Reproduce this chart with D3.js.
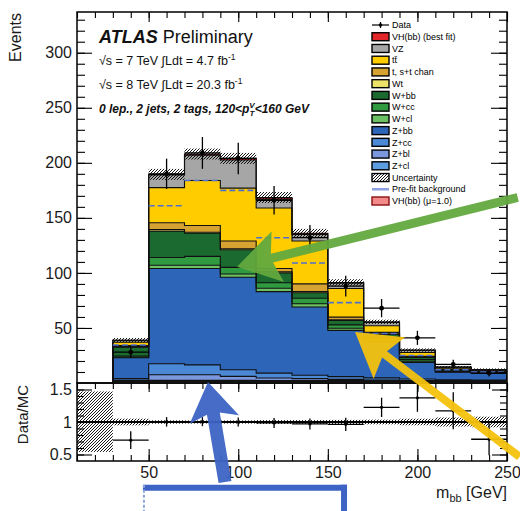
<!DOCTYPE html>
<html>
<head>
<meta charset="utf-8">
<script src="https://cdn.jsdelivr.net/npm/d3@7"></script>
<style>
  html, body { margin: 0; padding: 0; background: #fff; }
  svg { display: block; font-family: "Liberation Sans", Arial, Helvetica, sans-serif; }
</style>
</head>
<body>
<svg id="chart" width="520" height="511"></svg>
<script>
// ---- m_bb histogram, 0 lepton, 2 jets, 2 tags, 120 < pT(V) < 160 GeV ----
const binEdges = [30, 50, 70, 90, 110, 130, 150, 170, 190, 210, 230, 250];

// stacked backgrounds + signal, bottom to top (events per 20 GeV bin)
const zcl   = [1.5, 2.5, 2.5, 2.5, 2.0, 2.0, 1.8, 1.5, 1.2, 1.0, 1.0];
const zbl   = [1.0, 5.0, 5.0, 3.5, 2.5, 2.0, 1.5, 1.2, 1.0, 0.8, 0.7];
const zcc   = [1.5, 10, 9.0, 6.0, 4.5, 3.0, 2.5, 2.0, 1.5, 1.0, 1.0];
const zbb   = [19, 86.5, 87.5, 84, 74, 62, 42, 33, 15, 7, 6];
const wcl   = [0.5, 3, 3, 3, 3, 3, 2, 1.5, 1, 0.5, 0.5];
const wcc   = [1, 7, 8, 6, 5, 5, 3, 2, 1.5, 0.8, 0.6];
const wbb   = [8, 24, 21, 16, 9, 5, 4, 3, 2, 1, 0.9];
const wt    = [0.5, 1.5, 1, 1, 1, 1, 0.5, 0.3, 0.2, 0.1, 0.1];
const stop  = [1, 6, 6, 7, 3, 7, 2.5, 1.5, 0.8, 0.4, 0.3];
const ttbar = [3, 32, 41, 48, 55, 39, 26, 6, 3.5, 1, 0.7];
const vz    = [1.8, 11.5, 23, 25.5, 8, 6, 4.8, 3, 2, 0.85, 0.42];
const vh    = [0.1, 0.5, 1, 1.5, 1.5, 1, 0.7, 0.5, 0.2, 0.05, 0.03];

const dataCounts  = [28, 190, 209, 204, 166, 132, 88, 68, 41, 17, 9];
const preFitBkg   = [34.5, 161, 184, 175, 132, 109, 73, 45, 25, 12, 10];
const totalUncert = [2, 5, 5, 5, 5, 4, 3, 2, 1.5, 1, 1];

// empty bin below the first populated one, shown as a band in the ratio
const emptyBinEdges = [10, 30];
const emptyBinBand  = [0.54, 1.47];

const xDomain = [10, 250];
const yDomain = [0, 337];
const ratioDomain = [0.4, 1.6];
const xTicks = [50, 100, 150, 200, 250];
const yTicks = [50, 100, 150, 200, 250, 300];
const ratioTicks = [0.5, 1, 1.5];

// series keys bottom -> top, with legend labels and fill colours
const stackKeys = ["zcl", "zbl", "zcc", "zbb", "wcl", "wcc", "wbb", "wt", "stop", "ttbar", "vz", "vh"];
const seriesValues = { zcl, zbl, zcc, zbb, wcl, wcc, wbb, wt, stop, ttbar, vz, vh };
const seriesLabels = {
  vh: "VH(bb) (best fit)", vz: "VZ", ttbar: "tt\u0304", stop: "t, s+t chan", wt: "Wt",
  wbb: "W+bb", wcc: "W+cc", wcl: "W+cl", zbb: "Z+bb", zcc: "Z+cc", zbl: "Z+bl", zcl: "Z+cl"
};
const seriesColors = {
  vh: "#e3262a", vz: "#a6a6a6", ttbar: "#ffcc00", stop: "#d6a232", wt: "#eee36a",
  wbb: "#1b6a30", wcc: "#2f9a40", wcl: "#6cbf62", zbb: "#2d65b8", zcc: "#4b88d6",
  zbl: "#7b98df", zcl: "#5c9de2"
};

// hand-drawn pointer annotations, in (GeV, Events) units of the main axes
const greenArrowGeV = [256, 99.3],    greenArrowEvents = [168.5, 105.6];
const yellowArrowGeV = [257, 165.2],  yellowArrowEvents = [-67, 46.3];
const blueArrowGeV = [92.6, 83.1],    blueArrowEvents = [-89.9, 0.9];
const blueBoxGeV = [46.8, 159.6],     blueBoxEvents = [-92.4, -140];

// ---- layout ----
const frame = { left: 77, right: 507, top: 12, mainBottom: 383, ratioBottom: 461 };
const svg = d3.select("#chart");

const x = d3.scaleLinear().domain(xDomain).range([frame.left, frame.right]);
const y = d3.scaleLinear().domain(yDomain).range([frame.mainBottom, frame.top]);
const r = d3.scaleLinear().domain(ratioDomain).range([frame.ratioBottom, frame.mainBottom]);

const defs = svg.append("defs");
const hatch = defs.append("pattern").attr("id", "hatch")
  .attr("patternUnits", "userSpaceOnUse").attr("width", 3).attr("height", 3);
hatch.append("path").attr("d", "M-1,1 l2,-2 M0,3 l3,-3 M2,4 l2,-2")
  .attr("stroke", "#000").attr("stroke-width", 0.9);
defs.append("clipPath").attr("id", "clipMain").append("rect")
  .attr("x", frame.left).attr("y", frame.top)
  .attr("width", frame.right - frame.left).attr("height", frame.mainBottom - frame.top);
defs.append("clipPath").attr("id", "clipRatio").append("rect")
  .attr("x", frame.left).attr("y", frame.mainBottom)
  .attr("width", frame.right - frame.left).attr("height", frame.ratioBottom - frame.mainBottom);

// ---- table + stack ----
const table = binEdges.slice(0, -1).map((lo, i) => {
  const row = { lo, hi: binEdges[i + 1] };
  stackKeys.forEach(k => row[k] = seriesValues[k][i]);
  return row;
});
const stacked = d3.stack().keys(stackKeys)(table);
const totals = table.map(row => d3.sum(stackKeys, k => row[k]));

const main = svg.append("g").attr("clip-path", "url(#clipMain)");

// filled layers
stacked.forEach(layer => {
  main.append("g").selectAll("rect").data(layer).join("rect")
    .attr("x", d => x(d.data.lo))
    .attr("width", d => x(d.data.hi) - x(d.data.lo) + 0.5)
    .attr("y", d => y(d[1]))
    .attr("height", d => y(d[0]) - y(d[1]))
    .attr("fill", seriesColors[layer.key])
    .attr("shape-rendering", "crispEdges");
});

// black contour on top of each layer (step outline)
const stepLine = d3.line().curve(d3.curveStepAfter).x(p => x(p[0])).y(p => y(p[1]));
function stepPoints(vals) {
  const pts = [[binEdges[0], 0]];
  vals.forEach((v, i) => pts.push([binEdges[i], v]));
  pts.push([binEdges[binEdges.length - 1], vals[vals.length - 1]]);
  pts.push([binEdges[binEdges.length - 1], 0]);
  return pts;
}
stacked.forEach(layer => {
  main.append("path")
    .attr("d", stepLine(stepPoints(layer.map(d => d[1]))))
    .attr("fill", "none").attr("stroke", "#111").attr("stroke-width", 1.1);
});

// total uncertainty band
main.append("g").selectAll("rect").data(table).join("rect")
  .attr("x", (d) => x(d.lo))
  .attr("width", d => x(d.hi) - x(d.lo))
  .attr("y", (d, i) => y(totals[i] + totalUncert[i]))
  .attr("height", (d, i) => y(totals[i] - totalUncert[i]) - y(totals[i] + totalUncert[i]))
  .attr("fill", "url(#hatch)");

// pre-fit background (dashed)
main.append("g").selectAll("line").data(table).join("line")
  .attr("x1", d => x(d.lo)).attr("x2", d => x(d.hi))
  .attr("y1", (d, i) => y(preFitBkg[i])).attr("y2", (d, i) => y(preFitBkg[i]))
  .attr("stroke", "#4f6fd0").attr("stroke-width", 1.6).attr("stroke-dasharray", "6,3");

// data points with Poisson errors
const dataG = main.append("g");
table.forEach((d, i) => {
  const n = dataCounts[i], e = Math.sqrt(n), cx = x((d.lo + d.hi) / 2);
  dataG.append("line").attr("x1", x(d.lo)).attr("x2", x(d.hi))
    .attr("y1", y(n)).attr("y2", y(n)).attr("stroke", "#000").attr("stroke-width", 1.3);
  dataG.append("line").attr("x1", cx).attr("x2", cx)
    .attr("y1", y(n - e)).attr("y2", y(n + e)).attr("stroke", "#000").attr("stroke-width", 1.3);
  dataG.append("circle").attr("cx", cx).attr("cy", y(n)).attr("r", 2.4).attr("fill", "#000");
});

// ---- ratio panel ----
const ratio = svg.append("g").attr("clip-path", "url(#clipRatio)");
ratio.append("rect")
  .attr("x", x(emptyBinEdges[0])).attr("width", x(emptyBinEdges[1]) - x(emptyBinEdges[0]))
  .attr("y", r(emptyBinBand[1])).attr("height", r(emptyBinBand[0]) - r(emptyBinBand[1]))
  .attr("fill", "url(#hatch)");
ratio.append("g").selectAll("rect").data(table).join("rect")
  .attr("x", d => x(d.lo)).attr("width", d => x(d.hi) - x(d.lo))
  .attr("y", (d, i) => r(1 + totalUncert[i] / totals[i]))
  .attr("height", (d, i) => r(1 - totalUncert[i] / totals[i]) - r(1 + totalUncert[i] / totals[i]))
  .attr("fill", "url(#hatch)");
ratio.append("line").attr("x1", frame.left).attr("x2", frame.right)
  .attr("y1", r(1)).attr("y2", r(1)).attr("stroke", "#000").attr("stroke-width", 2);
table.forEach((d, i) => {
  const q = dataCounts[i] / totals[i], e = Math.sqrt(dataCounts[i]) / totals[i];
  const cx = x((d.lo + d.hi) / 2);
  ratio.append("line").attr("x1", x(d.lo)).attr("x2", x(d.hi))
    .attr("y1", r(q)).attr("y2", r(q)).attr("stroke", "#000").attr("stroke-width", 1.3);
  ratio.append("line").attr("x1", cx).attr("x2", cx)
    .attr("y1", r(q - e)).attr("y2", r(q + e)).attr("stroke", "#000").attr("stroke-width", 1.3);
  ratio.append("circle").attr("cx", cx).attr("cy", r(q)).attr("r", 1.6).attr("fill", "#000");
});

// ---- axes (ticks drawn inside the frames) ----
function styleAxis(g) {
  g.select(".domain").remove();
  g.selectAll(".tick line").attr("stroke", "#000").attr("stroke-width", 1.1);
  g.selectAll("text").attr("fill", "#1a1a1a").attr("font-size", 16)
    .attr("font-family", "'Liberation Sans', Arial, sans-serif");
}
const minorY = d3.range(10, 337, 10);
const minorX = d3.range(10, 251, 10);
const minorR = d3.range(0.5, 1.6, 0.1).map(v => +v.toFixed(1));

svg.append("g").attr("transform", `translate(${frame.left},0)`)
  .call(d3.axisLeft(y).tickValues(minorY).tickSize(-8).tickFormat("")).call(styleAxis);
svg.append("g").attr("transform", `translate(${frame.left},0)`)
  .call(d3.axisLeft(y).tickValues(yTicks).tickSize(-15).tickPadding(5).tickFormat(d3.format("d")))
  .call(styleAxis);
svg.append("g").attr("transform", `translate(${frame.right},0)`)
  .call(d3.axisRight(y).tickValues(minorY).tickSize(-8).tickFormat("")).call(styleAxis);
svg.append("g").attr("transform", `translate(${frame.right},0)`)
  .call(d3.axisRight(y).tickValues(yTicks).tickSize(-16).tickFormat("")).call(styleAxis);
svg.append("g").attr("transform", `translate(0,${frame.top})`)
  .call(d3.axisTop(x).tickValues(minorX).tickSize(-6).tickFormat("")).call(styleAxis);
svg.append("g").attr("transform", `translate(0,${frame.top})`)
  .call(d3.axisTop(x).tickValues(xTicks).tickSize(-10).tickFormat("")).call(styleAxis);

// ratio axes
svg.append("g").attr("transform", `translate(${frame.left},0)`)
  .call(d3.axisLeft(r).tickValues(minorR).tickSize(-7).tickFormat("")).call(styleAxis);
svg.append("g").attr("transform", `translate(${frame.left},0)`)
  .call(d3.axisLeft(r).tickValues(ratioTicks).tickSize(-15).tickPadding(5).tickFormat(d => d === 1 ? "1" : d))
  .call(styleAxis);
svg.append("g").attr("transform", `translate(${frame.right},0)`)
  .call(d3.axisRight(r).tickValues(minorR).tickSize(-7).tickFormat("")).call(styleAxis);
svg.append("g").attr("transform", `translate(${frame.right},0)`)
  .call(d3.axisRight(r).tickValues(ratioTicks).tickSize(-15).tickFormat("")).call(styleAxis);
svg.append("g").attr("transform", `translate(0,${frame.mainBottom})`)
  .call(d3.axisTop(x).tickValues(minorX).tickSize(-6).tickFormat("")).call(styleAxis);
svg.append("g").attr("transform", `translate(0,${frame.mainBottom})`)
  .call(d3.axisTop(x).tickValues(xTicks).tickSize(-9).tickFormat("")).call(styleAxis);
svg.append("g").attr("transform", `translate(0,${frame.ratioBottom})`)
  .call(d3.axisBottom(x).tickValues(minorX).tickSize(-6).tickFormat("")).call(styleAxis);
svg.append("g").attr("transform", `translate(0,${frame.ratioBottom})`)
  .call(d3.axisBottom(x).tickValues(xTicks).tickSize(-12).tickPadding(6).tickFormat(d3.format("d")))
  .call(styleAxis);

// frames
svg.append("rect").attr("x", frame.left).attr("y", frame.top)
  .attr("width", frame.right - frame.left).attr("height", frame.mainBottom - frame.top)
  .attr("fill", "none").attr("stroke", "#000").attr("stroke-width", 1.5);
svg.append("rect").attr("x", frame.left).attr("y", frame.mainBottom)
  .attr("width", frame.right - frame.left).attr("height", frame.ratioBottom - frame.mainBottom)
  .attr("fill", "none").attr("stroke", "#000").attr("stroke-width", 1.5);
svg.append("line").attr("x1", x(binEdges[0])).attr("x2", frame.right)
  .attr("y1", frame.mainBottom - 1.5).attr("y2", frame.mainBottom - 1.5)
  .attr("stroke", "#111").attr("stroke-width", 3);

// axis titles
svg.append("text").attr("transform", "translate(21,13) rotate(-90)")
  .attr("text-anchor", "end").attr("font-size", 16).attr("fill", "#1a1a1a").text("Events");
svg.append("text").attr("transform", `translate(28,${frame.mainBottom + 2}) rotate(-90)`)
  .attr("text-anchor", "end").attr("font-size", 15).attr("fill", "#1a1a1a").text("Data/MC");
const xt = svg.append("text").attr("x", frame.right).attr("y", 498)
  .attr("text-anchor", "end").attr("font-size", 16).attr("fill", "#1a1a1a");
xt.append("tspan").text("m");
xt.append("tspan").attr("font-size", 11).attr("dy", 4).text("bb");
xt.append("tspan").attr("dy", -4).text(" [GeV]");

// ATLAS label block
const lab = svg.append("g").attr("fill", "#111");
const t0 = lab.append("text").attr("x", 99).attr("y", 43).attr("font-size", 18);
t0.append("tspan").attr("font-weight", "bold").attr("font-style", "italic").text("ATLAS");
t0.append("tspan").text(" Preliminary");
function lumiLine(yPos, energy, lumi) {
  const t = lab.append("text").attr("x", 99).attr("y", yPos).attr("font-size", 12.5);
  t.append("tspan").text(`\u221As = ${energy} TeV \u222BLdt = ${lumi} fb`);
  t.append("tspan").attr("font-size", 8.5).attr("dy", -5).text("-1");
}
lumiLine(65, 7, "4.7");
lumiLine(89, 8, "20.3");
const t3 = lab.append("text").attr("x", 99).attr("y", 113).attr("font-size", 12)
  .attr("font-weight", "bold").attr("font-style", "italic");
t3.append("tspan").text("0 lep., 2 jets, 2 tags, 120<p");
t3.append("tspan").attr("font-size", 8).attr("dy", 3).text("T");
t3.append("tspan").attr("font-size", 8).attr("dx", -5).attr("dy", -8).text("V");
t3.append("tspan").attr("dy", 5).text("<160 GeV");

// legend
const legendItems = [{ type: "data", label: "Data" }]
  .concat(stackKeys.slice().reverse().map(k => ({ type: "fill", key: k, label: seriesLabels[k] })))
  .concat([{ type: "unc", label: "Uncertainty" }, { type: "prefit", label: "Pre-fit background" },
           { type: "sig", label: "VH(bb) (\u03BC=1.0)" }]);
const ly = d3.scalePoint().domain(d3.range(legendItems.length)).range([25, 201]);
const leg = svg.append("g");
legendItems.forEach((it, i) => {
  const cy = ly(i), sx = 372, sw = 17, sh = 8;
  const g = leg.append("g");
  if (it.type === "data") {
    g.append("line").attr("x1", sx).attr("x2", sx + sw).attr("y1", cy).attr("y2", cy).attr("stroke", "#000").attr("stroke-width", 1.2);
    g.append("line").attr("x1", sx + sw / 2).attr("x2", sx + sw / 2).attr("y1", cy - 3).attr("y2", cy + 3).attr("stroke", "#000").attr("stroke-width", 1.2);
    g.append("circle").attr("cx", sx + sw / 2).attr("cy", cy).attr("r", 1.8).attr("fill", "#000");
  } else if (it.type === "prefit") {
    g.append("line").attr("x1", sx).attr("x2", sx + sw).attr("y1", cy).attr("y2", cy).attr("stroke", "#8da0e2").attr("stroke-width", 2.5);
  } else {
    const fill = it.type === "fill" ? seriesColors[it.key] : it.type === "unc" ? "url(#hatch)" : "#f28a8a";
    g.append("rect").attr("x", sx).attr("y", cy - sh / 2).attr("width", sw).attr("height", sh)
      .attr("fill", fill).attr("stroke", it.type === "sig" ? "#8a1010" : "#000").attr("stroke-width", 1.4);
  }
  g.append("text").attr("x", 392).attr("y", cy + 3.2).attr("font-size", 9).attr("fill", "#000").text(it.label);
});

// ---- pointer annotations ----
function arrowPath(tail, tip, shaftW, headLen, headHalf) {
  const [sx, sy] = tail, [tx, ty] = tip;
  const L = Math.hypot(tx - sx, ty - sy), ux = (tx - sx) / L, uy = (ty - sy) / L;
  const nx = -uy, ny = ux, bx = tx - ux * headLen, by = ty - uy * headLen;
  const pts = [
    [sx + nx * shaftW / 2, sy + ny * shaftW / 2], [bx + nx * shaftW / 2, by + ny * shaftW / 2],
    [bx - ux * 6 + nx * headHalf, by - uy * 6 + ny * headHalf], [tx, ty],
    [bx - ux * 6 - nx * headHalf, by - uy * 6 - ny * headHalf], [bx - nx * shaftW / 2, by - ny * shaftW / 2],
    [sx - nx * shaftW / 2, sy - ny * shaftW / 2]
  ];
  return "M" + pts.map(p => p.join(",")).join("L") + "Z";
}
const ann = svg.append("g");
ann.append("path")
  .attr("d", arrowPath([x(greenArrowGeV[0]), y(greenArrowEvents[0])], [x(greenArrowGeV[1]), y(greenArrowEvents[1])], 9, 36, 26))
  .attr("fill", "#63a93e").attr("opacity", 0.95);
ann.append("path")
  .attr("d", arrowPath([x(yellowArrowGeV[0]), y(yellowArrowEvents[0])], [x(yellowArrowGeV[1]), y(yellowArrowEvents[1])], 8, 37, 26))
  .attr("fill", "#f4c20d").attr("opacity", 0.95);
ann.append("path")
  .attr("d", arrowPath([x(blueArrowGeV[0]), y(blueArrowEvents[0])], [x(blueArrowGeV[1]), y(blueArrowEvents[1])], 13, 32, 25))
  .attr("fill", "#3d64c4").attr("opacity", 0.95);
// box outline below the axis
const bx0 = x(blueBoxGeV[0]), bx1 = x(blueBoxGeV[1]), by0 = y(blueBoxEvents[0]), by1 = y(blueBoxEvents[1]);
ann.append("line").attr("x1", bx0).attr("x2", bx1 + 2).attr("y1", by0 + 3).attr("y2", by0 + 3)
  .attr("stroke", "#3d64c4").attr("stroke-width", 6);
ann.append("line").attr("x1", bx1 - 1).attr("x2", bx1 - 1).attr("y1", by0).attr("y2", by1)
  .attr("stroke", "#3d64c4").attr("stroke-width", 6);
ann.append("line").attr("x1", bx0 + 1).attr("x2", bx0 + 1).attr("y1", by0).attr("y2", by1)
  .attr("stroke", "#8fa6dc").attr("stroke-width", 2).attr("stroke-dasharray", "3,2");
</script>
</body>
</html>
